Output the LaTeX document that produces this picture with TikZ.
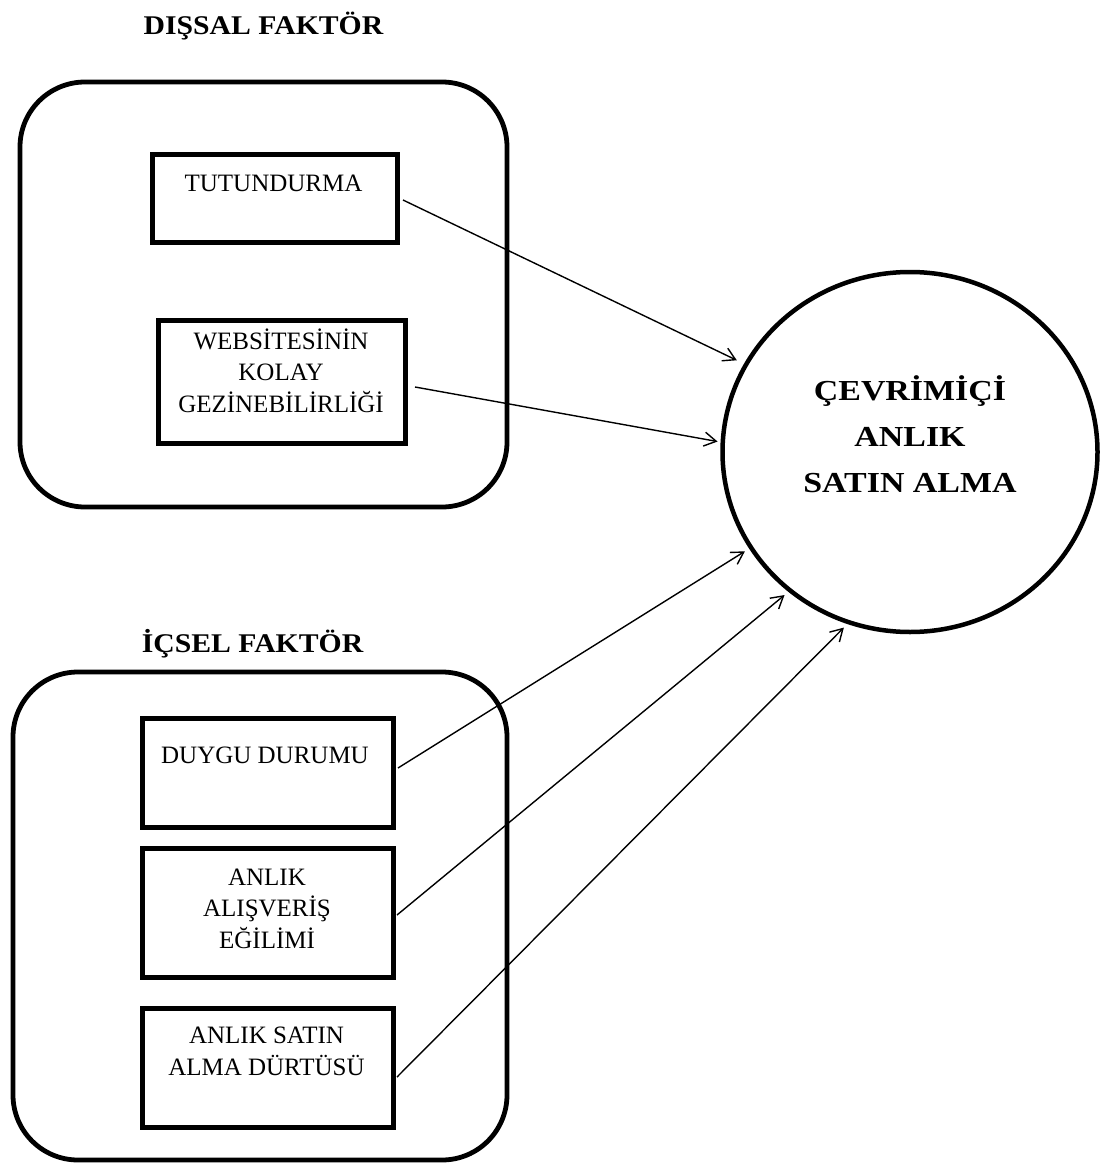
\documentclass[tikz,border=0pt]{standalone}
\usepackage{fontspec}
\setmainfont{Liberation Serif}
\newfontfamily\titlefont[FakeStretch=1.1]{Liberation Serif}
\newfontfamily\circfont[FakeStretch=1.17]{Liberation Serif}
\usetikzlibrary{shapes.geometric,arrows.meta}
\tikzset{
  outerbox/.style={draw, line width=4.8pt, rounded corners=65pt, rectangle, inner sep=0pt},
  itembox/.style={draw, line width=5pt, rectangle, inner sep=0pt},
  boxtext/.style={font=\fontsize{25}{31.5}\selectfont, align=center, anchor=base, inner sep=0pt},
  titletext/.style={font=\titlefont\bfseries\fontsize{27}{32}\selectfont, anchor=base, inner sep=0pt},
  circtext/.style={font=\circfont\bfseries\fontsize{29}{46}\selectfont, align=center, anchor=base, inner sep=0pt},
  conn/.style={-{Straight Barb[length=12pt,width=14pt,line width=1.4pt]}, line width=1.4pt},
}
\begin{document}
\begin{tikzpicture}[x=1pt,y=-1pt]
\useasboundingbox[fill=white] (0,0) rectangle (1101,1166);

% titles
\node[titletext] (t1) at (263.5,35) {DIŞSAL FAKTÖR};
\node[titletext] (t2) at (252.5,652) {İÇSEL FAKTÖR};

% outer groups
\node[outerbox, minimum width=487pt, minimum height=425pt] (dis) at (263.5,294.5) {};
\node[outerbox, minimum width=494pt, minimum height=488pt] (ic) at (260,916) {};

% inner boxes
\node[itembox, minimum width=245pt, minimum height=88pt] (tut) at (274.5,199) {};
\node[itembox, minimum width=247pt, minimum height=123pt] (web) at (281.5,381.5) {};
\node[itembox, minimum width=251pt, minimum height=109pt] (duy) at (267.5,772.5) {};
\node[itembox, minimum width=251pt, minimum height=129pt] (anl) at (267.5,912.5) {};
\node[itembox, minimum width=251pt, minimum height=119pt] (ans) at (267.5,1067.5) {};

% texts (base anchor = baseline of last line)
\node[boxtext] (tutT) at (273.5,192) {TUTUNDURMA};
\node[boxtext] (webT) at (281,412) {WEBSİTESİNİN\\KOLAY\\GEZİNEBİLİRLİĞİ};
\node[boxtext] (duyT) at (265,763) {DUYGU DURUMU};
\node[boxtext] (anlT) at (267,948) {ANLIK\\ALIŞVERİŞ\\EĞİLİMİ};
\node[boxtext] (ansT) at (266.5,1075) {ANLIK SATIN\\ALMA DÜRTÜSÜ};

% circle
\node[ellipse, draw, line width=4.5pt, minimum width=375pt, minimum height=360pt, inner sep=0pt] (circ) at (910,452) {};
\node[circtext] (circT) at (910,492) {ÇEVRİMİÇİ\\ANLIK\\SATIN ALMA};

% arrow start points
\coordinate (s1) at (403,200);
\coordinate (s2) at (415,387);
\coordinate (s3) at (398,768);
\coordinate (s4) at (397,915);
\coordinate (s5) at (397,1077);

\draw[conn, shorten >=8pt] (s1) -- (circ.152.8);
\draw[conn, shorten >=3pt] (s2) -- (circ.177);
\draw[conn, shorten >=5pt] (s3) -- (circ.211.9);
\draw[conn, shorten >=5pt] (s4) -- (circ.229.5);
\draw[conn, shorten >=5pt] (s5) -- (circ.250.5);
\end{tikzpicture}
\end{document}
